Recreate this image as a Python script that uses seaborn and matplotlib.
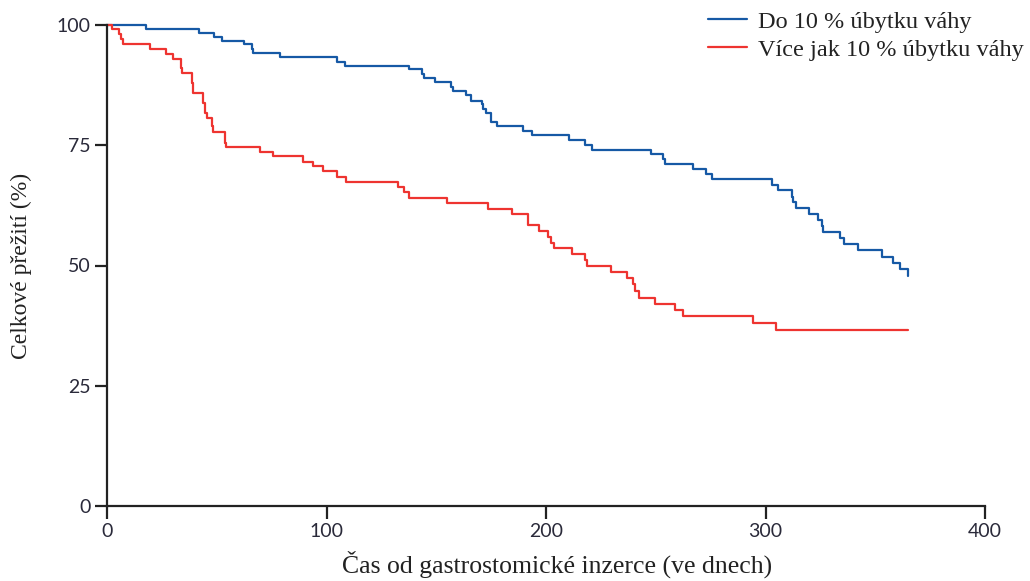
import numpy as np
import pandas as pd
import matplotlib
matplotlib.use("Agg")
import matplotlib.pyplot as plt
import seaborn as sns

# Kaplan-Meier survival steps (days, % surviving)
days_low = [0, 17.6, 42, 48.7, 52.4, 62.4, 65.9, 66.7, 78.8, 104.6, 108.4,
            137.7, 143.7, 144.6, 149.4, 156.7, 157.5, 163.6, 165.7, 170.7,
            171.4, 172.5, 174.8, 177.5, 189.7, 193.8, 210.5, 217.8, 220.8,
            247.8, 253.1, 254.2, 266.8, 272.7, 275.5, 302.8, 305.8, 311.9,
            312.7, 313.7, 319.8, 324.1, 325.6, 326.3, 333.9, 335.9, 342,
            352.9, 358.2, 361.3, 365]
surv_low = [100, 99.1, 98.3, 97.6, 96.6, 96.0, 95.1, 94.2, 93.3, 92.4, 91.5,
            90.9, 89.9, 89.0, 88.1, 87.2, 86.3, 85.4, 84.3, 83.5,
            82.6, 81.7, 79.9, 78.9, 78.0, 77.1, 76.0, 75.1, 74.0,
            73.1, 72.1, 71.1, 70.0, 69.0, 67.9, 66.8, 65.6, 64.3,
            63.1, 62.0, 60.8, 59.4, 58.2, 57.0, 55.7, 54.5, 53.2,
            51.7, 50.5, 49.3, 47.8]

days_high = [0, 2.4, 5.5, 6.4, 7.1, 19.6, 26.7, 29.9, 33.7, 34.2, 38.6, 39.3,
             43.9, 44.6, 45.7, 47.7, 48.4, 53.8, 54.2, 69.7, 75.8, 89.4, 93.7,
             98.4, 104.6, 108.7, 132.4, 135.3, 137.7, 154.8, 173.7, 184.7,
             192, 196.8, 200.8, 202.3, 203.6, 211.7, 217.8, 218.5, 229.6,
             236.8, 239.8, 240.5, 242.4, 249.7, 258.8, 262.6, 294.1, 304.8, 365]
surv_high = [100, 99.1, 98.1, 97.0, 96.0, 95.0, 93.9, 92.9, 91.0, 90.0, 87.9, 85.9,
             83.8, 81.8, 80.7, 78.9, 77.7, 75.5, 74.7, 73.7, 72.8, 71.6, 70.6,
             69.6, 68.5, 67.3, 66.3, 65.2, 64.0, 63.0, 61.8, 60.8,
             58.4, 57.2, 56.0, 54.7, 53.6, 52.4, 51.1, 50.0, 48.7,
             47.3, 46.1, 44.8, 43.3, 42.0, 40.7, 39.4, 38.0, 36.5, 36.5]

groups = ["Do 10 % úbytku váhy", "Více jak 10 % úbytku váhy"]
x_ticks = [0, 100, 200, 300, 400]
y_ticks = [0, 25, 50, 75, 100]

df = pd.concat([
    pd.DataFrame({"den": days_low, "preziti": surv_low, "skupina": groups[0]}),
    pd.DataFrame({"den": days_high, "preziti": surv_high, "skupina": groups[1]}),
])

sns.set_style("ticks")
serif = ["Liberation Serif", "DejaVu Serif"]

fig = plt.figure(figsize=(10.30, 5.81), dpi=100)
ax = fig.add_axes([107 / 1030, 1 - 506 / 581, (985 - 107) / 1030, (506 - 25) / 581])

palette = {groups[0]: "#1659a5", groups[1]: "#ee3430"}
sns.lineplot(data=df, x="den", y="preziti", hue="skupina", palette=palette,
             estimator=None, drawstyle="steps-post", linewidth=1.6, ax=ax,
             legend=True)
for line in ax.lines:
    line.set_clip_on(False)

ax.set_xlim(0, 400)
ax.set_ylim(0, 100)
ax.set_xticks(x_ticks)
ax.set_yticks(y_ticks)
ax.tick_params(axis="both", direction="out", length=9, width=1.6,
               color="#222222", labelsize=14, labelcolor="#2a2a3a", pad=3)
for lab in ax.get_xticklabels() + ax.get_yticklabels():
    lab.set_family("Lato")
for side in ("left", "bottom"):
    ax.spines[side].set_linewidth(1.6)
    ax.spines[side].set_color("#222222")
sns.despine(ax=ax)

ax.set_xlabel("Čas od gastrostomické inzerce (ve dnech)", family=serif,
              fontsize=18.5, color="#222222")
ax.xaxis.set_label_coords(0.5125, -0.092)
ax.set_ylabel("Celkové přežití (%)", family=serif, fontsize=17,
              color="#222222")
ax.yaxis.set_label_coords(-0.085, 0.5)

handles, labels = ax.get_legend_handles_labels()
ax.get_legend().remove()
leg = fig.legend(handles, labels, loc="upper right",
                 bbox_to_anchor=(1.008, 1.007), frameon=False,
                 prop={"family": serif, "size": 17.5}, handlelength=1.6,
                 handletextpad=0.45, labelspacing=0.25, borderaxespad=0.2)
for t in leg.get_texts():
    t.set_color("#222222")

fig.savefig("out.png", dpi=100)
